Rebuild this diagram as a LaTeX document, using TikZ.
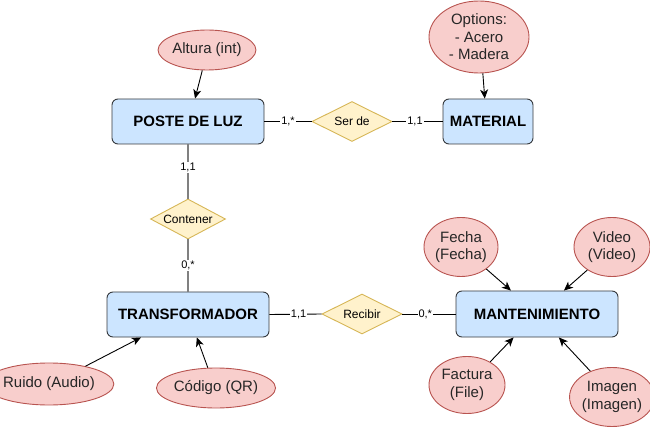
\documentclass[tikz,border=0pt]{standalone}
\usepackage{fontspec}
\setmainfont{Liberation Sans}
\usetikzlibrary{shapes.geometric,arrows.meta}
\definecolor{boxfill}{HTML}{CCE5FF}
\definecolor{boxline}{HTML}{36393D}
\definecolor{attfill}{HTML}{F8CECC}
\definecolor{attline}{HTML}{B85450}
\definecolor{relfill}{HTML}{FFF2CC}
\definecolor{relline}{HTML}{D6B656}
\definecolor{vline}{HTML}{808080}
\tikzset{
  entity/.style={draw=boxline, fill=boxfill, rounded corners=6pt, line width=0.9pt,
    minimum height=45pt, inner sep=0pt, font=\fontsize{15}{17}\selectfont\bfseries},
  attr/.style={ellipse, draw=attline, fill=attfill, line width=0.9pt, inner sep=0pt,
    align=center, font=\fontsize{15}{17.5}\selectfont, text=black!85},
  rel/.style={diamond, aspect=2, draw=relline, fill=relfill, line width=0.9pt, inner sep=0pt,
    minimum width=80pt, minimum height=40pt, font=\fontsize{12}{14}\selectfont},
  card/.style={fill=white, inner sep=1pt, font=\fontsize{11}{13}\selectfont},
  hlink/.style={draw=black, line width=0.9pt},
  vlink/.style={draw=vline, line width=2pt},
  attarrow/.style={draw=black, line width=0.9pt, -{Stealth[length=9pt,width=8pt,inset=2.5pt]}}
}
\begin{document}
\begin{tikzpicture}[x=1pt,y=-1pt]
\useasboundingbox (0,0) rectangle (650,427);
% entities
\node[entity, minimum width=152pt] (poste) at (188,121.5) {POSTE DE LUZ};
\node[entity, minimum width=90pt] (material) at (488,121.5) {MATERIAL};
\node[entity, minimum width=162pt] (trans) at (188,314.5) {TRANSFORMADOR};
\node[entity, minimum width=162pt, minimum height=46pt] (mant) at (537,314) {MANTENIMIENTO};
% relationships
\node[rel] (serde) at (352,121.5) {Ser de};
\node[rel, minimum width=75pt] (contener) at (188,219) {Contener};
\node[rel] (recibir) at (362,314) {Recibir};
% attributes
\node[attr, minimum width=97pt, minimum height=40pt] (altura) at (207,50) {Altura (int)};
\node[attr, minimum width=100pt, minimum height=72pt] (options) at (479,37) {Options:\\- Acero\\- Madera};
\node[attr, minimum width=98pt, minimum height=42pt] (ruido) at (49,384) {Ruido (Audio)};
\node[attr, minimum width=98pt, minimum height=40pt] (codigo) at (216,388) {Código (QR)};
\node[attr, minimum width=74pt, minimum height=59pt] (fecha) at (461,247) {Fecha\\(Fecha)};
\node[attr, minimum width=76pt, minimum height=59pt] (video) at (612,247) {Video\\(Video)};
\node[attr, minimum width=76pt, minimum height=57pt] (factura) at (467,385) {Factura\\(File)};
\node[attr, minimum width=76pt, minimum height=59pt] (imagen) at (612,397) {Imagen\\(Imagen)};
% relationship links
\draw[hlink] (poste.east) -- node[card] {1,*} (serde.west);
\draw[hlink] (serde.east) -- node[card, pos=0.45] {1,1} (material.west);
\draw[vlink] (poste.south) -- node[card, pos=0.43] {1,1} (contener.north);
\draw[vlink] (contener.south) -- node[card] {0,*} (trans.north);
\draw[hlink] (trans.east) -- node[card, pos=0.56] {1,1} (recibir.west);
\draw[hlink] (recibir.east) -- node[card, pos=0.43] {0,*} (mant.west);
% attribute arrows
\draw[attarrow] (altura.-103) -- (poste.73);
\draw[attarrow] (options.-84) -- (material.98);
\draw[attarrow] (ruido.26) -- (trans.-154);
\draw[attarrow] (codigo.112) -- (trans.-69);
\draw[attarrow] (fecha.-41) -- (mant.138);
\draw[attarrow] (video.-137.5) -- (mant.41.5);
\draw[attarrow] (factura.45) -- (mant.-135);
\draw[attarrow] (imagen.130) -- (mant.-47.5);
\end{tikzpicture}
\end{document}
